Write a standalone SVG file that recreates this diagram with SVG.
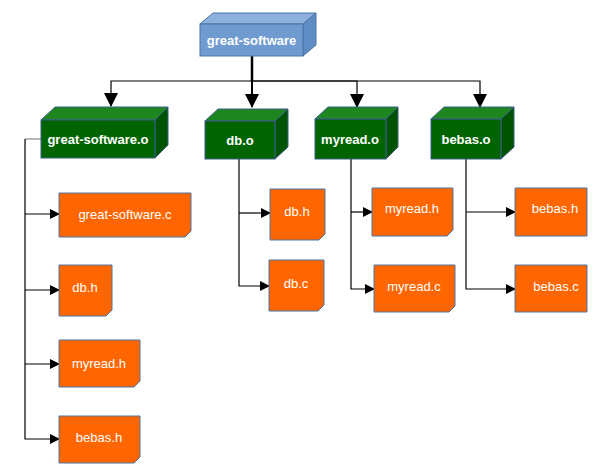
<svg xmlns="http://www.w3.org/2000/svg" width="600" height="475" viewBox="0 0 600 475">
<defs>
<marker id="a" markerWidth="10" markerHeight="10" refX="9" refY="5" orient="auto" markerUnits="userSpaceOnUse"><path d="M0,0 L10,5 L0,10 Z" fill="#000"/></marker>
<marker id="b" markerWidth="14" markerHeight="14" refX="13" refY="7" orient="auto" markerUnits="userSpaceOnUse"><path d="M0,0 L14,7 L0,14 Z" fill="#000"/></marker>
</defs>
<style>
text{font-family:"Liberation Sans",Arial,sans-serif;fill:#fff;text-anchor:middle}
.b{font-weight:bold;font-size:13px}
.n{font-size:13px}
.f{fill:#006400;stroke:#3a5f8a}
.t{fill:#1e861e;stroke:#3a5f8a}
.s{fill:#005400;stroke:#3a5f8a}
.o{fill:#ff6600;stroke:#4a74a8}
.c{stroke:#000;fill:none;stroke-width:1.2}
</style>
<g id="connectors">
<path class="c" d="M252,56 V81" stroke-width="2.5" style="stroke-width:2.5"/>
<path class="c" d="M252,81 H111 V106" marker-end="url(#b)"/>
<path class="c" d="M252,81 V107" marker-end="url(#b)" style="stroke-width:2"/>
<path class="c" d="M252,81 H357 V107" marker-end="url(#b)"/>
<path class="c" d="M252,81 H480 V107" marker-end="url(#b)"/>
<path d="M41,139 H25" stroke="#888" stroke-width="1.2"/>
<path class="c" d="M25,139 V439 H59" marker-end="url(#a)"/>
<path class="c" d="M25,214 H59" marker-end="url(#a)"/>
<path class="c" d="M25,290 H59" marker-end="url(#a)"/>
<path class="c" d="M25,364 H59" marker-end="url(#a)"/>
<path class="c" d="M239,159 V286 H269" marker-end="url(#a)"/>
<path class="c" d="M239,213 H270" marker-end="url(#a)"/>
<path class="c" d="M351,159 V289 H374" marker-end="url(#a)"/>
<path class="c" d="M351,212 H372" marker-end="url(#a)"/>
<path class="c" d="M466,159 V289 H515" marker-end="url(#a)"/>
<path class="c" d="M466,212 H515" marker-end="url(#a)"/>
</g>
<g id="great-software">
<path d="M200,24 L213,13 H316 L303,24 Z" fill="#8db0dc" stroke="#4a74a8"/>
<path d="M303,24 L316,13 V45 L303,56 Z" fill="#5f8cc4" stroke="#4a74a8"/>
<rect x="200" y="24" width="103" height="32" fill="#6f9bd1" stroke="#4a74a8"/>
<text class="b" x="251.5" y="45">great-software</text>
</g>
<g id="great-software.o">
<path class="t" d="M41,120 L55,107 H168 L155,120 Z"/>
<path class="s" d="M155,120 L168,107 V145 L155,158 Z"/>
<rect class="f" x="41" y="120" width="114" height="38"/>
<text class="b" x="98" y="144">great-software.o</text>
</g>
<g id="db.o">
<path class="t" d="M205,121 L218,109 H288 L275,121 Z"/>
<path class="s" d="M275,121 L288,109 V147 L275,159 Z"/>
<rect class="f" x="205" y="121" width="70" height="38"/>
<text class="b" x="240" y="145">db.o</text>
</g>
<g id="myread.o">
<path class="t" d="M315,119 L328,107 H398 L386,119 Z"/>
<path class="s" d="M386,119 L398,107 V147 L386,159 Z"/>
<rect class="f" x="315" y="119" width="71" height="40"/>
<text class="b" x="350" y="144">myread.o</text>
</g>
<g id="bebas.o">
<path class="t" d="M431,119 L444,107 H514 L501,119 Z"/>
<path class="s" d="M501,119 L514,107 V147 L501,159 Z"/>
<rect class="f" x="431" y="119" width="70" height="40"/>
<text class="b" x="466" y="144">bebas.o</text>
</g>
<g id="great-software.c"><path class="o" d="M59,193 H191 V231 L185,237 H59 Z"/><text class="n" x="125" y="219">great-software.c</text></g>
<g id="db.h-1"><path class="o" d="M59,265 H112 V310 L106,316 H59 Z"/><text class="n" x="85" y="292">db.h</text></g>
<g id="myread.h-1"><path class="o" d="M59,340 H140 V381 L134,387 H59 Z"/><text class="n" x="99" y="368">myread.h</text></g>
<g id="bebas.h-1"><path class="o" d="M59,416 H140 V457 L134,463 H59 Z"/><text class="n" x="99" y="442">bebas.h</text></g>
<g id="db.h-2"><path class="o" d="M270,189 H325 V234 L319,240 H270 Z"/><text class="n" x="297" y="216">db.h</text></g>
<g id="db.c"><path class="o" d="M269,260 H324 V305 L318,311 H269 Z"/><text class="n" x="296" y="288">db.c</text></g>
<g id="myread.h-2"><path class="o" d="M372,188 H453 V230 L447,236 H372 Z"/><text class="n" x="412" y="213">myread.h</text></g>
<g id="myread.c"><path class="o" d="M374,265 H455 V306 L449,312 H374 Z"/><text class="n" x="414" y="291">myread.c</text></g>
<g id="bebas.h-2"><path class="o" d="M515,188 H587 V236 H515 Z"/><text class="n" x="555" y="213">bebas.h</text></g>
<g id="bebas.c"><path class="o" d="M515,265 H587 V312 H515 Z"/><text class="n" x="556" y="291">bebas.c</text></g>
</svg>
